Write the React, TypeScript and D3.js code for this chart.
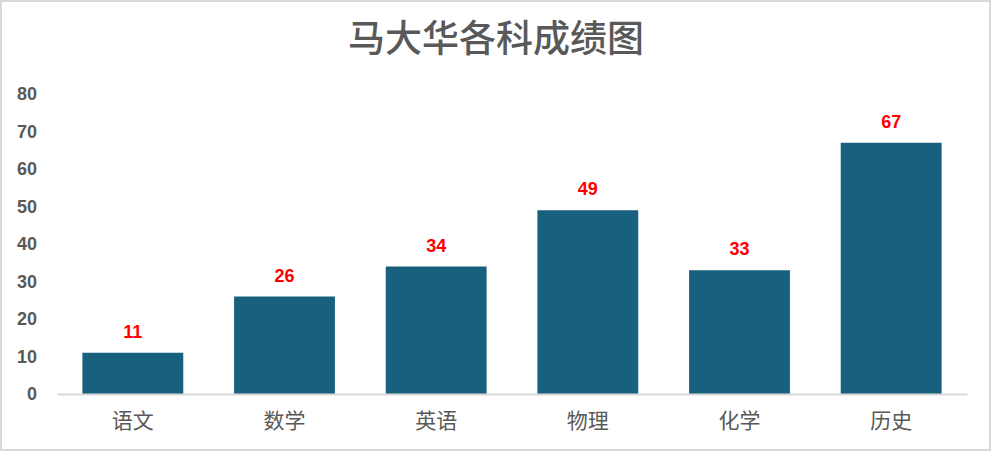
import * as d3 from 'd3';
import { useEffect, useRef } from 'react';

const subjects = ['语文', '数学', '英语', '物理', '化学', '历史'];
const scores = [11, 26, 34, 49, 33, 67];
const yTicks = [0, 10, 20, 30, 40, 50, 60, 70, 80];
const chartTitle = '马大华各科成绩图';

export default function App() {
    const svgRef = useRef<SVGSVGElement>(null);

    useEffect(() => {
        if (!svgRef.current) return;
        document.body.style.margin = '0';

        const width = 992;
        const height = 452;
        const margin = { top: 94, right: 25, bottom: 58, left: 57 };

        const svg = d3.select(svgRef.current).attr('width', width).attr('height', height);
        svg.selectAll('*').remove();

        svg.append('rect')
            .attr('x', 1)
            .attr('y', 1)
            .attr('width', width - 3)
            .attr('height', height - 3)
            .attr('fill', '#fff')
            .attr('stroke', '#d9d9d9')
            .attr('stroke-width', 2);

        svg.append('text')
            .attr('x', 496)
            .attr('y', 52)
            .attr('text-anchor', 'middle')
            .attr('fill', '#595959')
            .attr('font-size', '37px')
            .attr('font-weight', 500)
            .attr('font-family', '"Noto Sans CJK SC", sans-serif')
            .text(chartTitle);

        const x = d3
            .scaleBand<string>()
            .domain(subjects)
            .range([margin.left, width - margin.right])
            .paddingInner(0.335)
            .paddingOuter(0.1675);

        const y = d3
            .scaleLinear()
            .domain([0, 80])
            .range([height - margin.bottom, margin.top]);

        // y axis: labels only
        const yAxis = svg
            .append('g')
            .attr('transform', `translate(${margin.left - 20},0)`)
            .call(d3.axisLeft(y).tickValues(yTicks).tickSize(0).tickPadding(0));
        yAxis.select('.domain').remove();
        yAxis.selectAll('text')
            .attr('fill', '#595959')
            .attr('font-size', '18px')
            .attr('font-weight', 'bold')
            .attr('font-family', '"Liberation Sans", Arial, sans-serif');

        // bars
        svg.selectAll('rect.bar')
            .data(scores)
            .join('rect')
            .attr('class', 'bar')
            .attr('x', (_, i) => x(subjects[i])!)
            .attr('width', x.bandwidth())
            .attr('y', (d) => y(d))
            .attr('height', (d) => y(0) - y(d))
            .attr('fill', '#17607e');

        // x axis
        const xAxis = svg
            .append('g')
            .attr('transform', `translate(0,${y(0)})`)
            .call(d3.axisBottom(x).tickSize(0).tickPadding(19).tickSizeOuter(0));
        xAxis.select('.domain').attr('stroke', '#d9d9d9').attr('stroke-width', 2);
        xAxis.selectAll('text')
            .attr('fill', '#595959')
            .attr('font-size', '21px')
            .attr('font-family', '"Noto Sans CJK SC", sans-serif');

        // value labels
        svg.selectAll('text.val')
            .data(scores)
            .join('text')
            .attr('class', 'val')
            .attr('x', (_, i) => x(subjects[i])! + x.bandwidth() / 2)
            .attr('y', (d) => y(d) - 15)
            .attr('text-anchor', 'middle')
            .attr('fill', '#ff0000')
            .attr('font-size', '18px')
            .attr('font-weight', 'bold')
            .attr('font-family', '"Liberation Sans", Arial, sans-serif')
            .text((d) => d);
    }, []);

    return <svg ref={svgRef} style={{ display: 'block' }} />;
}
